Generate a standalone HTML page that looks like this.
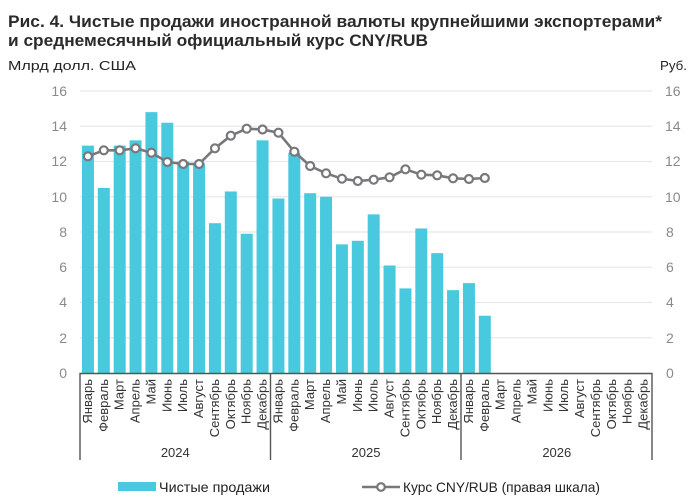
<!DOCTYPE html>
<html>
<head>
<meta charset="utf-8">
<style>
html,body{margin:0;padding:0;background:#fff;}
svg{display:block;font-family:"Liberation Sans",sans-serif;}
</style>
</head>
<body>
<svg width="700" height="502" viewBox="0 0 700 502" xmlns="http://www.w3.org/2000/svg">
<rect width="700" height="502" fill="#fff"/>
<!-- Title -->
<text x="8" y="27" font-size="17" font-weight="bold" fill="#2b2b2b" textLength="654" lengthAdjust="spacingAndGlyphs">Рис. 4. Чистые продажи иностранной валюты крупнейшими экспортерами*</text>
<text x="8" y="46" font-size="17" font-weight="bold" fill="#2b2b2b" textLength="420" lengthAdjust="spacingAndGlyphs">и среднемесячный официальный курс CNY/RUB</text>
<text x="8" y="70" font-size="13" fill="#222" textLength="128" lengthAdjust="spacingAndGlyphs">Млрд долл. США</text>
<text x="660" y="70" font-size="13" fill="#222" textLength="27" lengthAdjust="spacingAndGlyphs">Руб.</text>

<!-- gridlines -->
<g stroke="#e8e8e8" stroke-width="1.2">
<line x1="80" x2="652" y1="91" y2="91"/>
<line x1="80" x2="652" y1="126.25" y2="126.25"/>
<line x1="80" x2="652" y1="161.5" y2="161.5"/>
<line x1="80" x2="652" y1="196.75" y2="196.75"/>
<line x1="80" x2="652" y1="232" y2="232"/>
<line x1="80" x2="652" y1="267.25" y2="267.25"/>
<line x1="80" x2="652" y1="302.5" y2="302.5"/>
<line x1="80" x2="652" y1="337.75" y2="337.75"/>
</g>

<!-- y labels -->
<g font-size="14" fill="#8a8a8a">
<g text-anchor="end">
<text x="67" y="96">16</text>
<text x="67" y="131">14</text>
<text x="67" y="166">12</text>
<text x="67" y="202">10</text>
<text x="67" y="237">8</text>
<text x="67" y="272">6</text>
<text x="67" y="307">4</text>
<text x="67" y="343">2</text>
<text x="67" y="378">0</text>
</g>
<g text-anchor="start">
<text x="665" y="96">16</text>
<text x="665" y="131">14</text>
<text x="665" y="166">12</text>
<text x="665" y="202">10</text>
<text x="666" y="237">8</text>
<text x="666" y="272">6</text>
<text x="666" y="307">4</text>
<text x="666" y="343">2</text>
<text x="666" y="378">0</text>
</g>
</g>

<!-- bars -->
<g fill="#48c9dd">
<rect x="81.94" y="145.64" width="12" height="227.36"/>
<rect x="97.81" y="187.94" width="12" height="185.06"/>
<rect x="113.69" y="145.64" width="12" height="227.36"/>
<rect x="129.56" y="140.35" width="12" height="232.65"/>
<rect x="145.44" y="112.15" width="12" height="260.85"/>
<rect x="161.31" y="122.72" width="12" height="250.28"/>
<rect x="177.19" y="161.5" width="12" height="211.5"/>
<rect x="193.06" y="163.26" width="12" height="209.74"/>
<rect x="208.94" y="223.19" width="12" height="149.81"/>
<rect x="224.81" y="191.46" width="12" height="181.54"/>
<rect x="240.69" y="233.76" width="12" height="139.24"/>
<rect x="256.56" y="140.35" width="12" height="232.65"/>
<rect x="272.44" y="198.51" width="12" height="174.49"/>
<rect x="288.31" y="152.69" width="12" height="220.31"/>
<rect x="304.19" y="193.22" width="12" height="179.78"/>
<rect x="320.06" y="196.75" width="12" height="176.25"/>
<rect x="335.94" y="244.34" width="12" height="128.66"/>
<rect x="351.81" y="240.81" width="12" height="132.19"/>
<rect x="367.69" y="214.37" width="12" height="158.63"/>
<rect x="383.56" y="265.49" width="12" height="107.51"/>
<rect x="399.44" y="288.4" width="12" height="84.6"/>
<rect x="415.31" y="228.47" width="12" height="144.53"/>
<rect x="431.19" y="253.15" width="12" height="119.85"/>
<rect x="447.06" y="290.16" width="12" height="82.84"/>
<rect x="462.94" y="283.11" width="12" height="89.89"/>
<rect x="478.81" y="315.72" width="12" height="57.28"/>
</g>

<!-- line -->
<polyline fill="none" stroke="#78787c" stroke-width="2.6" stroke-linejoin="round"
points="87.94,156.3 103.81,150.3 119.69,150.3 135.56,148.3 151.44,152.7 167.31,162 183.19,164 199.06,164 214.94,148.3 230.81,135.7 246.69,128.7 262.56,129.5 278.44,132.7 294.31,151.7 310.19,166 326.06,173.3 341.94,178.7 357.81,181 373.69,179.7 389.56,177.3 405.44,169.3 421.31,174.7 437.19,175.3 453.06,178.3 468.94,179 484.81,178"/>
<g fill="#fff" stroke="#78787c" stroke-width="2.2">
<circle cx="87.94" cy="156.3" r="4"/>
<circle cx="103.81" cy="150.3" r="4"/>
<circle cx="119.69" cy="150.3" r="4"/>
<circle cx="135.56" cy="148.3" r="4"/>
<circle cx="151.44" cy="152.7" r="4"/>
<circle cx="167.31" cy="162" r="4"/>
<circle cx="183.19" cy="164" r="4"/>
<circle cx="199.06" cy="164" r="4"/>
<circle cx="214.94" cy="148.3" r="4"/>
<circle cx="230.81" cy="135.7" r="4"/>
<circle cx="246.69" cy="128.7" r="4"/>
<circle cx="262.56" cy="129.5" r="4"/>
<circle cx="278.44" cy="132.7" r="4"/>
<circle cx="294.31" cy="151.7" r="4"/>
<circle cx="310.19" cy="166" r="4"/>
<circle cx="326.06" cy="173.3" r="4"/>
<circle cx="341.94" cy="178.7" r="4"/>
<circle cx="357.81" cy="181" r="4"/>
<circle cx="373.69" cy="179.7" r="4"/>
<circle cx="389.56" cy="177.3" r="4"/>
<circle cx="405.44" cy="169.3" r="4"/>
<circle cx="421.31" cy="174.7" r="4"/>
<circle cx="437.19" cy="175.3" r="4"/>
<circle cx="453.06" cy="178.3" r="4"/>
<circle cx="468.94" cy="179" r="4"/>
<circle cx="484.81" cy="178" r="4"/>
</g>

<!-- axis -->
<line x1="79.5" x2="652.5" y1="373.5" y2="373.5" stroke="#555" stroke-width="1.6"/>
<g stroke="#555" stroke-width="1.4">
<line x1="80" x2="80" y1="373" y2="460"/>
<line x1="270.5" x2="270.5" y1="373" y2="460"/>
<line x1="461" x2="461" y1="373" y2="460"/>
<line x1="652" x2="652" y1="373" y2="460"/>
</g>

<!-- month labels -->
<g font-size="13" fill="#333" text-anchor="end">
<text transform="translate(92,379) rotate(-90)">Январь</text>
<text transform="translate(107.8,379) rotate(-90)">Февраль</text>
<text transform="translate(123.7,379) rotate(-90)">Март</text>
<text transform="translate(139.6,379) rotate(-90)">Апрель</text>
<text transform="translate(155.4,379) rotate(-90)">Май</text>
<text transform="translate(171.3,379) rotate(-90)">Июнь</text>
<text transform="translate(187.2,379) rotate(-90)">Июль</text>
<text transform="translate(203.1,379) rotate(-90)">Август</text>
<text transform="translate(218.9,379) rotate(-90)">Сентябрь</text>
<text transform="translate(234.8,379) rotate(-90)">Октябрь</text>
<text transform="translate(250.7,379) rotate(-90)">Ноябрь</text>
<text transform="translate(266.6,379) rotate(-90)">Декабрь</text>
<text transform="translate(282.4,379) rotate(-90)">Январь</text>
<text transform="translate(298.3,379) rotate(-90)">Февраль</text>
<text transform="translate(314.2,379) rotate(-90)">Март</text>
<text transform="translate(330.1,379) rotate(-90)">Апрель</text>
<text transform="translate(345.9,379) rotate(-90)">Май</text>
<text transform="translate(361.8,379) rotate(-90)">Июнь</text>
<text transform="translate(377.7,379) rotate(-90)">Июль</text>
<text transform="translate(393.6,379) rotate(-90)">Август</text>
<text transform="translate(409.4,379) rotate(-90)">Сентябрь</text>
<text transform="translate(425.3,379) rotate(-90)">Октябрь</text>
<text transform="translate(441.2,379) rotate(-90)">Ноябрь</text>
<text transform="translate(457.1,379) rotate(-90)">Декабрь</text>
<text transform="translate(472.9,379) rotate(-90)">Январь</text>
<text transform="translate(488.8,379) rotate(-90)">Февраль</text>
<text transform="translate(504.7,379) rotate(-90)">Март</text>
<text transform="translate(520.6,379) rotate(-90)">Апрель</text>
<text transform="translate(536.4,379) rotate(-90)">Май</text>
<text transform="translate(552.3,379) rotate(-90)">Июнь</text>
<text transform="translate(568.2,379) rotate(-90)">Июль</text>
<text transform="translate(584.1,379) rotate(-90)">Август</text>
<text transform="translate(599.9,379) rotate(-90)">Сентябрь</text>
<text transform="translate(615.8,379) rotate(-90)">Октябрь</text>
<text transform="translate(631.7,379) rotate(-90)">Ноябрь</text>
<text transform="translate(647.6,379) rotate(-90)">Декабрь</text>
</g>

<!-- years -->
<g font-size="13" fill="#333" text-anchor="middle">
<text x="175.3" y="457">2024</text>
<text x="366" y="457">2025</text>
<text x="556.8" y="457">2026</text>
</g>

<!-- legend -->
<rect x="118" y="482" width="38" height="9" fill="#48c9dd"/>
<text x="159" y="492" font-size="14" fill="#222" textLength="111" lengthAdjust="spacingAndGlyphs">Чистые продажи</text>
<line x1="362" x2="400" y1="487" y2="487" stroke="#78787c" stroke-width="2.4"/>
<circle cx="381" cy="487" r="3.8" fill="#fff" stroke="#78787c" stroke-width="2.2"/>
<text x="403" y="492" font-size="14" fill="#222" textLength="197" lengthAdjust="spacingAndGlyphs">Курс CNY/RUB (правая шкала)</text>
</svg>
</body>
</html>
